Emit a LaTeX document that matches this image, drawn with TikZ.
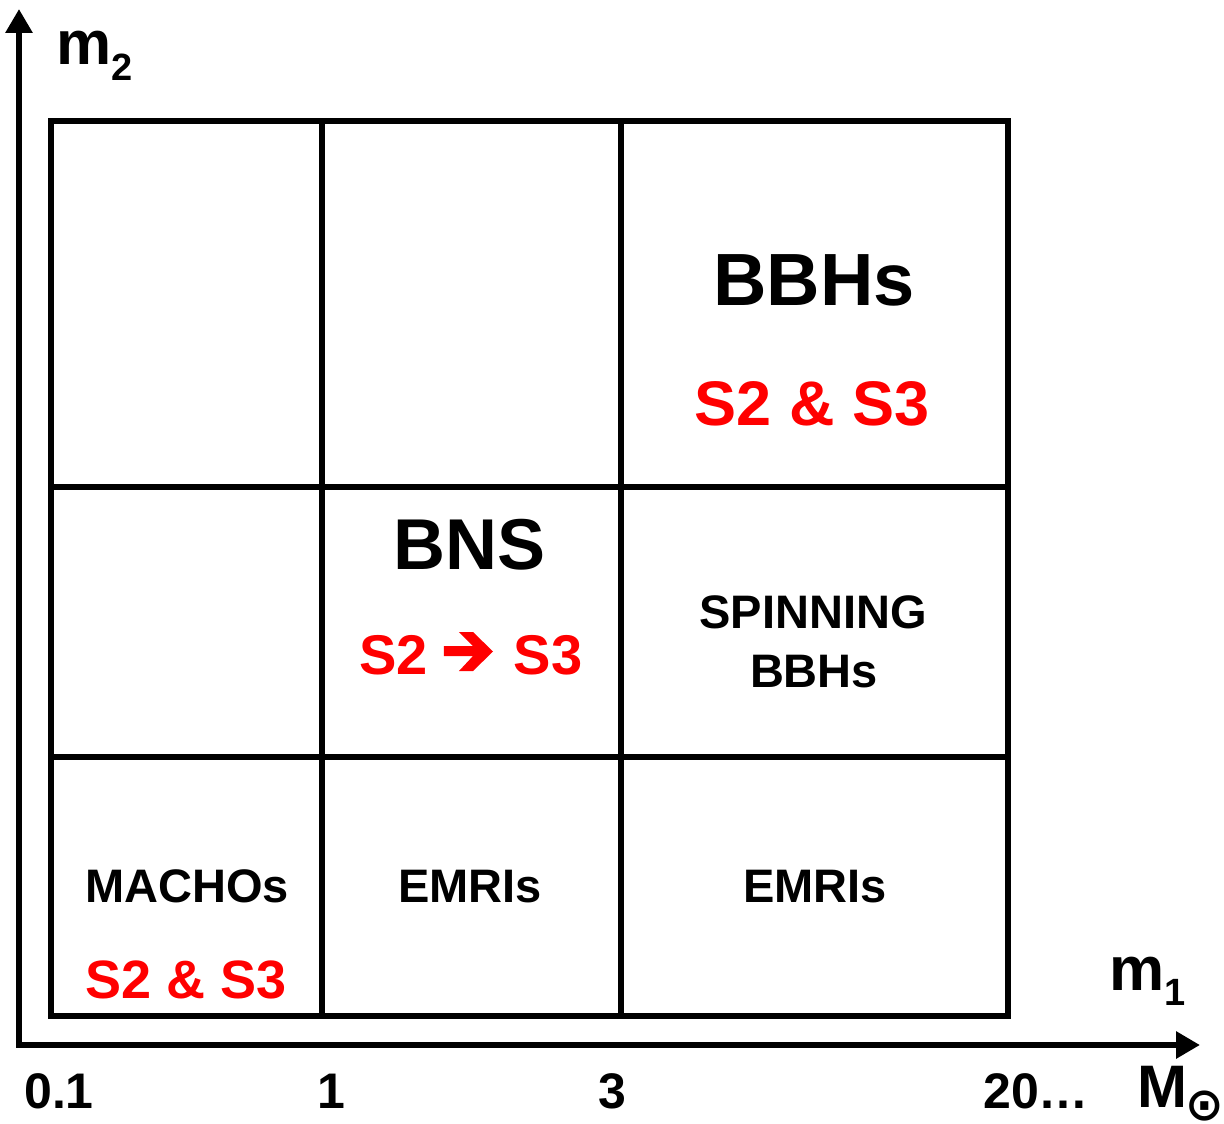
\documentclass[tikz,border=0pt]{standalone}
\usepackage{fontspec}
\setmainfont{Liberation Sans}
\newfontfamily\dejavu{DejaVu Sans}
\usetikzlibrary{arrows.meta}
\definecolor{ired}{RGB}{255,0,0}
\newcommand\fsz[1]{\fontsize{#1}{#1}\selectfont\bfseries}
\newcommand\heavyarrow{\tikz[baseline=0pt,x=1pt,y=1pt]\fill[ired] (0,18) -- (0,28) -- (29,28) -- (15,42) -- (29,42) -- (49,22.5) -- (29,3) -- (15,3) -- (29,18) -- cycle;}
\tikzset{
  lbl/.style={anchor=base, inner sep=0pt, outer sep=0pt},
  gridline/.style={line width=6pt, line cap=rect, line join=miter},
  axisline/.style={line width=6pt, {Triangle[length=24pt,width=26pt]}-{Triangle[length=24pt,width=26pt]}}
}
\begin{document}
\begin{tikzpicture}[x=1pt,y=-1pt]
\useasboundingbox (0,0) rectangle (1224,1124);
% axes
\coordinate (ytip) at (19,9);
\coordinate (corner) at (19,1045);
\coordinate (xtip) at (1200,1045);
\draw[axisline] (ytip) -- (corner) -- (xtip);
% grid
\draw[gridline] (51,121) rectangle (1008,1016);
\draw[gridline] (322,121) -- (322,1016);
\draw[gridline] (621,121) -- (621,1016);
\draw[gridline] (51,487) -- (1008,487);
\draw[gridline] (51,757) -- (1008,757);
% axis labels
\node[lbl, anchor=base west, font=\fsz{62}] (m2) at (56,65) {m\raisebox{-16pt}{\fsz{38}2}};
\node[lbl, anchor=base west, font=\fsz{62}] (m1) at (1109,990) {m\raisebox{-15pt}{\fsz{38}1}};
\node[lbl, font=\fsz{50}] (t01) at (59,1108) {0.1};
\node[lbl, font=\fsz{50}] (t1) at (331,1108) {1};
\node[lbl, font=\fsz{50}] (t3) at (612,1108) {3};
\node[lbl, font=\fsz{50}] (t20) at (1036,1108) {20…};
\node[lbl, anchor=base west, font=\fsz{60}] (msun) at (1137,1107) {M};
\node[inner sep=0pt, outer sep=0pt, font=\dejavu\fsz{46}] (sun) at (1205,1106) {⊙};
% cell labels
\node[lbl, font=\fsz{74}] (bbh) at (814,305) {BBHs};
\node[lbl, font=\fsz{63}, text=ired] (bbhs) at (812,425) {S2 \& S3};
\node[lbl, font=\fsz{72}] (bns) at (470,569) {BNS};
\node[lbl, anchor=base west, font=\fsz{56}, text=ired] (bnss) at (359,674) {S2\hspace{16.5pt}\heavyarrow\hspace{21pt}S3};
\node[lbl, font=\fsz{47}] (spin1) at (813,628) {SPINNING};
\node[lbl, font=\fsz{47}] (spin2) at (814,687) {BBHs};
\node[lbl, font=\fsz{47}] (macho) at (187,902) {MACHOs};
\node[lbl, font=\fsz{54}, text=ired] (machos) at (186,998) {S2 \& S3};
\node[lbl, font=\fsz{47}] (emri1) at (470,902) {EMRIs};
\node[lbl, font=\fsz{47}] (emri2) at (815,902) {EMRIs};
\end{tikzpicture}
\end{document}
